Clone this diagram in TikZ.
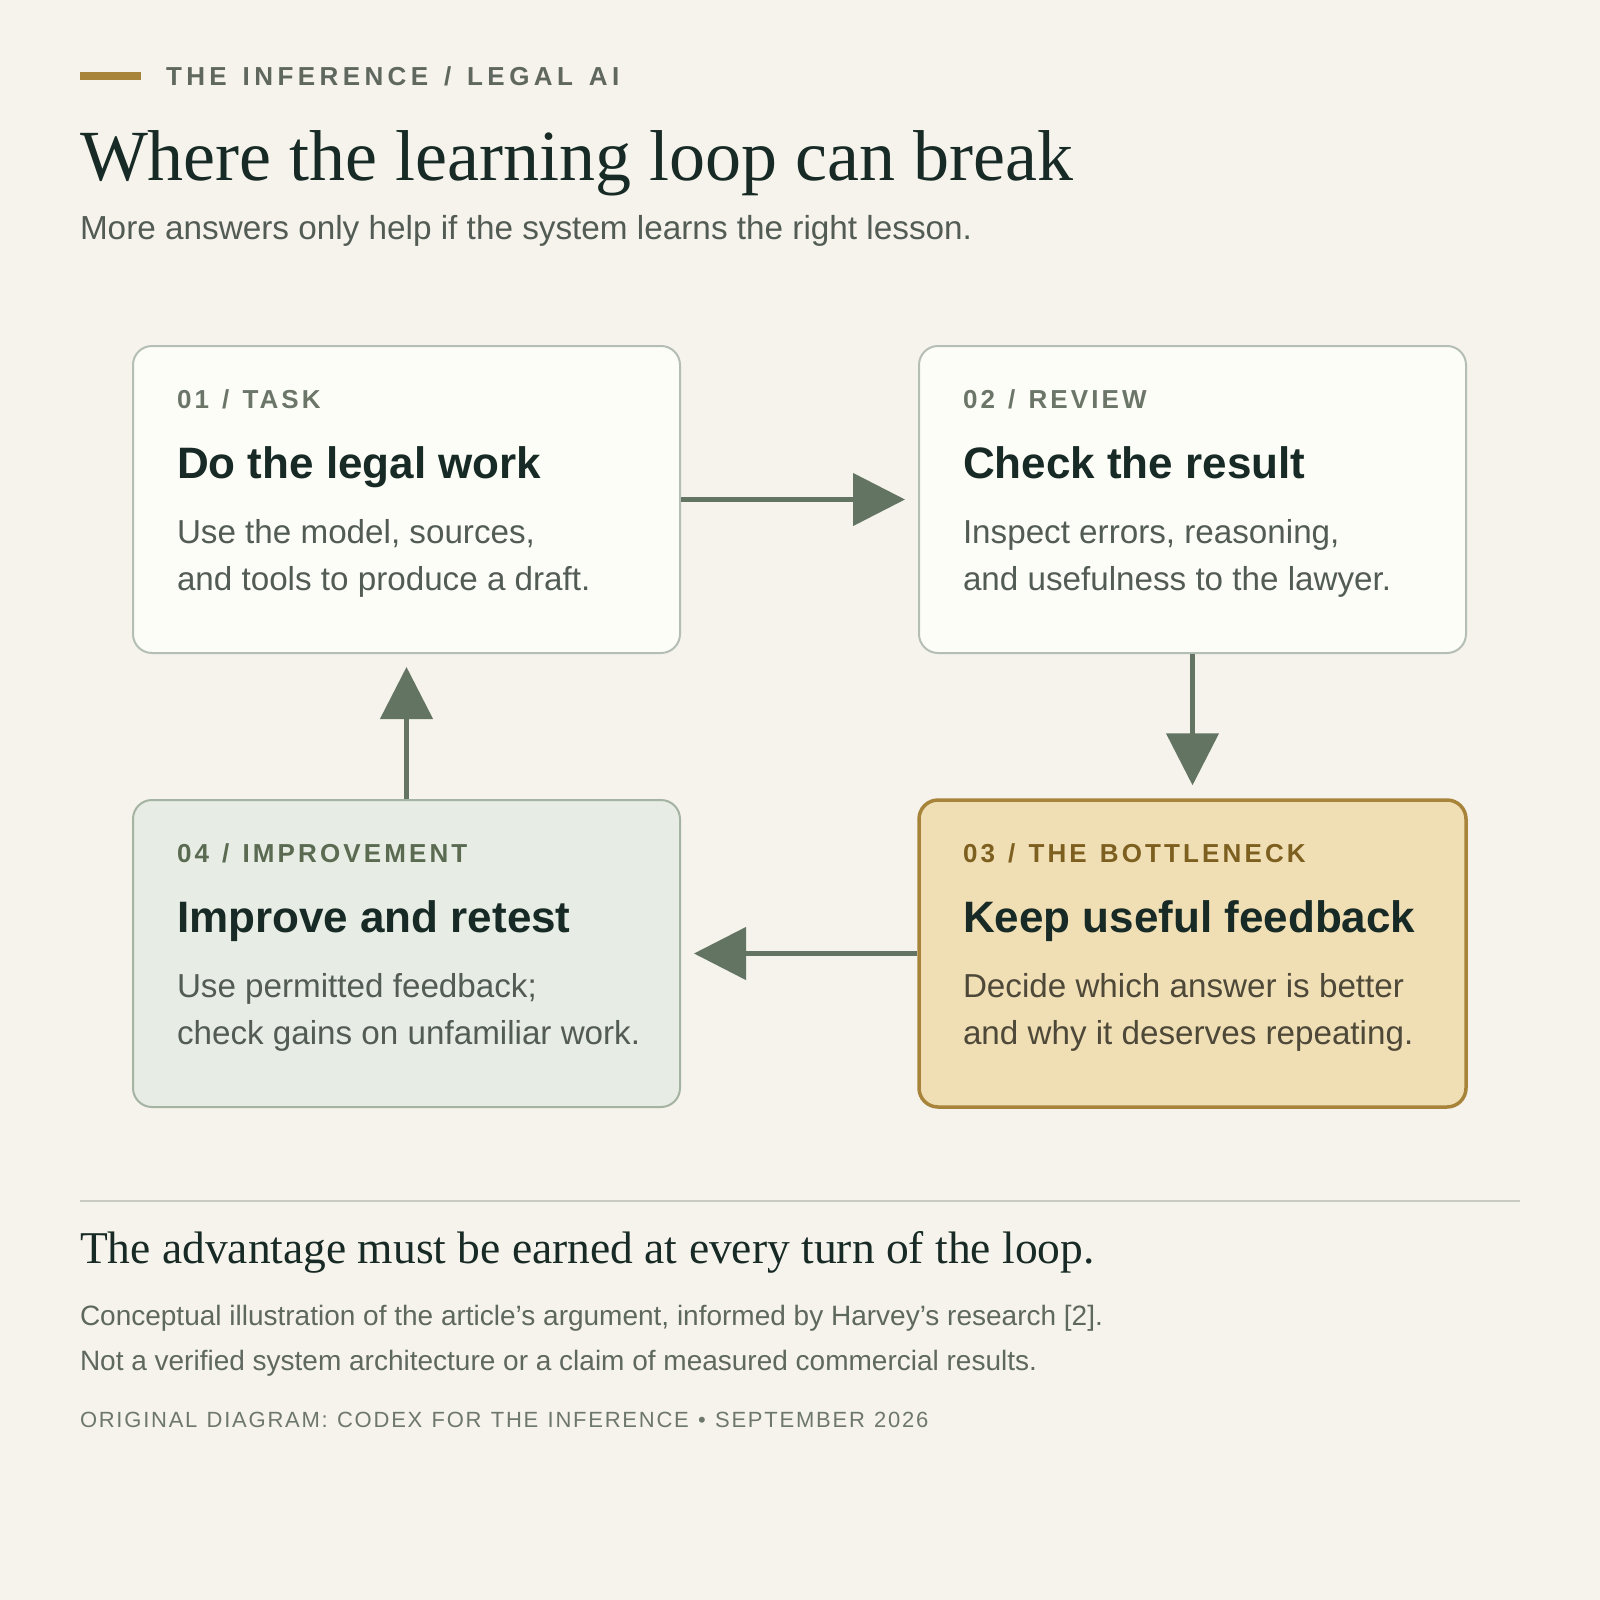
\documentclass[tikz,border=0pt]{standalone}
\usepackage{fontspec}
\setmainfont{Liberation Serif}
\newfontfamily\sansf{Liberation Sans}
\newfontfamily\sanshd[LetterSpace=17]{Liberation Sans}
\newfontfamily\sanslb[LetterSpace=12]{Liberation Sans}
\newfontfamily\sanscr[LetterSpace=8]{Liberation Sans}
\newlength\wordextra
\newcommand\wx{\hspace*{\wordextra}}
\newcommand\kickerfont{\sanshd\bfseries\fontsize{26}{30}\selectfont\setlength\wordextra{4.2pt}}
\newcommand\labelfont{\sanslb\bfseries\fontsize{26}{30}\selectfont\setlength\wordextra{2.8pt}}
\newcommand\creditfont{\sanscr\fontsize{22}{26}\selectfont\setlength\wordextra{1.4pt}}
\usetikzlibrary{arrows.meta}
\definecolor{bg}{HTML}{F5F3EC}
\definecolor{boxfill}{HTML}{FDFDF8}
\definecolor{boxline}{HTML}{B5BEB4}
\definecolor{greenfill}{HTML}{E7ECE4}
\definecolor{greenline}{HTML}{A5B3A2}
\definecolor{goldfill}{HTML}{F0DFB5}
\definecolor{goldline}{HTML}{A8843A}
\definecolor{arrowc}{HTML}{637463}
\definecolor{ink}{HTML}{182A25}
\definecolor{hdrc}{HTML}{5F675E}
\definecolor{subc}{HTML}{525C54}
\definecolor{lblc}{HTML}{6B7568}
\definecolor{lblgreen}{HTML}{5A6B51}
\definecolor{lblgold}{HTML}{7D5F1F}
\definecolor{bodygold}{HTML}{4D4838}
\definecolor{rulec}{HTML}{C9CAC1}
\definecolor{footc}{HTML}{5F685F}
\definecolor{credc}{HTML}{6E776E}
\tikzset{
  txt/.style={anchor=base west, inner sep=0pt, outer sep=0pt},
  card/.style={rectangle, rounded corners=19pt, minimum width=547pt, minimum height=307pt, inner sep=0pt, line width=2pt},
  plaincard/.style={card, draw=boxline, fill=boxfill},
  greencard/.style={card, draw=greenline, fill=greenfill},
  goldcard/.style={card, draw=goldline, fill=goldfill, line width=3.5pt},
  lbl/.style={txt, font=\labelfont},
  head/.style={txt, font=\sansf\bfseries\fontsize{44}{50}\selectfont, text=ink},
  body/.style={txt, font=\sansf\fontsize{33.2}{40}\selectfont, text=subc},
  flow/.style={draw=arrowc, line width=4.5pt, -{Triangle[length=52pt,width=52pt]}, shorten >=13pt}
}
\begin{document}
\begin{tikzpicture}[x=1pt,y=-1pt]
\fill[bg] (0,0) rectangle (1600,1600);
\useasboundingbox (0,0) rectangle (1600,1600);
% header
\fill[goldline] (80,72) rectangle (141,80);
\node[txt, font=\kickerfont, text=hdrc] (kicker) at (166,86) {THE\wx{} INFERENCE\wx{} /\wx{} LEGAL\wx{} AI};
\node[txt, font=\fontsize{72}{80}\selectfont, text=ink] (title) at (80,180) {Where the learning loop can break};
\node[txt, font=\sansf\fontsize{33.3}{38}\selectfont, text=subc] (sub) at (80,239) {More answers only help if the system learns the right lesson.};
% cards
\node[plaincard] (b1) at (406.5,499.5) {};
\node[plaincard] (b2) at (1192.5,499.5) {};
\node[goldcard] (b3) at (1192.5,953.5) {};
\node[greencard] (b4) at (406.5,953.5) {};
% card 1
\node[lbl, text=lblc] (l1) at (177,408) {01\wx{} /\wx{} TASK};
\node[head] (h1) at (177,478) {Do the legal work};
\node[body] (t1a) at (177,543) {Use the model, sources,};
\node[body] (t1b) at (177,590) {and tools to produce a draft.};
% card 2
\node[lbl, text=lblc] (l2) at (963,408) {02\wx{} /\wx{} REVIEW};
\node[head] (h2) at (963,478) {Check the result};
\node[body] (t2a) at (963,543) {Inspect errors, reasoning,};
\node[body] (t2b) at (963,590) {and usefulness to the lawyer.};
% card 3
\node[lbl, text=lblgold] (l3) at (963,862) {03\wx{} /\wx{} THE\wx{} BOTTLENECK};
\node[head] (h3) at (963,932) {Keep useful feedback};
\node[body, text=bodygold] (t3a) at (963,997) {Decide which answer is better};
\node[body, text=bodygold] (t3b) at (963,1044) {and why it deserves repeating.};
% card 4
\node[lbl, text=lblgreen] (l4) at (177,862) {04\wx{} /\wx{} IMPROVEMENT};
\node[head] (h4) at (177,932) {Improve and retest};
\node[body] (t4a) at (177,997) {Use permitted feedback;};
\node[body] (t4b) at (177,1044) {check gains on unfamiliar work.};
% arrows
\draw[flow] (b1.east) -- (b2.west);
\draw[flow] (b2.south) -- (b3.north);
\draw[flow] (b3.west) -- (b4.east);
\draw[flow] (b4.north) -- (b1.south);
% footer
\coordinate (r1) at (80,1201);
\coordinate (r2) at (1520,1201);
\draw[rulec, line width=2pt] (r1) -- (r2);
\node[txt, font=\fontsize{45.5}{50}\selectfont, text=ink] (moral) at (80,1263) {The advantage must be earned at every turn of the loop.};
\node[txt, font=\sansf\fontsize{28}{34}\selectfont, text=footc] (note1) at (80,1325) {Conceptual illustration of the article’s argument, informed by Harvey’s research [2].};
\node[txt, font=\sansf\fontsize{28}{34}\selectfont, text=footc] (note2) at (80,1370) {Not a verified system architecture or a claim of measured commercial results.};
\node[txt, font=\creditfont, text=credc] (credit) at (80,1427) {ORIGINAL\wx{} DIAGRAM:\wx{} CODEX\wx{} FOR\wx{} THE\wx{} INFERENCE\wx{} •\wx{} SEPTEMBER\wx{} 2026};
\end{tikzpicture}
\end{document}
